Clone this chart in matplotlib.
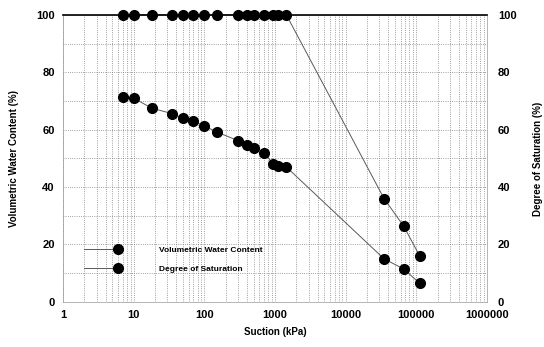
import matplotlib
matplotlib.use("Agg")
import matplotlib.pyplot as plt
from matplotlib.ticker import FixedLocator, FuncFormatter, MultipleLocator, LogLocator
from matplotlib.legend_handler import HandlerLine2DCompound

plt.rcParams['font.family'] = ['Liberation Sans', 'DejaVu Sans']

# suction (kPa)
suction = [7, 10, 18, 35, 50, 70, 100, 150, 300, 400, 500, 700, 950, 1100, 1450,
           35000, 66000, 112000]
# volumetric water content (%)
vwc = [71.5, 71, 67.5, 65.6, 64, 63, 61.3, 59.2, 56.2, 54.5, 53.5, 52, 48, 47.5, 47,
       15, 11.5, 6.5]
# degree of saturation (%)
sat = [100, 100, 100, 100, 100, 100, 100, 100, 100, 100, 100, 100, 100, 100, 100,
       36, 26.5, 16]

xticks = [1, 10, 100, 1000, 10000, 100000, 1000000]
yticks = [0, 20, 40, 60, 80, 100]


class RightMarker(HandlerLine2DCompound):
    # put the legend marker near the right end of the line
    def get_xdata(self, legend, xdescent, ydescent, width, height, fontsize):
        xdata, _ = super().get_xdata(legend, xdescent, ydescent, width, height, fontsize)
        return xdata, [-xdescent + 0.9 * width]


fig = plt.figure(figsize=(5.44, 3.47), dpi=100)
ax = fig.add_axes([0.116, 0.130, 0.779, 0.827])

l1, = ax.plot(suction, vwc, color='0.35', lw=0.7, marker='o', ms=7,
              mfc='black', mec='black', label='Volumetric Water Content', clip_on=False)
l2, = ax.plot(suction, sat, color='0.35', lw=0.7, marker='o', ms=7,
              mfc='black', mec='black', label='Degree of Saturation', clip_on=False)

ax.set_xscale('log')
ax.set_xlim(1, 1000000)
ax.set_ylim(0, 100)
ax.xaxis.set_major_locator(FixedLocator(xticks))
ax.xaxis.set_major_formatter(FuncFormatter(lambda v, p: '%d' % v))
ax.xaxis.set_minor_locator(LogLocator(base=10, subs=range(2, 10)))
ax.set_yticks(yticks)
ax.yaxis.set_minor_locator(MultipleLocator(10))

ax.grid(which='both', color='0.5', ls=':', lw=0.6)
ax.tick_params(which='both', length=0, labelsize=8)
for lbl in ax.get_xticklabels() + ax.get_yticklabels():
    lbl.set_fontweight('bold')
ax.tick_params(axis='x', pad=6)
ax.tick_params(axis='y', pad=6)

for side in ['left', 'right', 'bottom']:
    ax.spines[side].set_color('0.6')
    ax.spines[side].set_linewidth(0.5)
ax.spines['top'].set_color('black')
ax.spines['top'].set_linewidth(1.2)

ax.set_xlabel('Suction (kPa)', fontsize=7, fontweight='bold', labelpad=5)
ax.set_ylabel('Volumetric Water Content (%)', fontsize=7, fontweight='bold', labelpad=12)

ax2 = ax.twinx()
ax2.set_ylim(0, 100)
ax2.set_yticks(yticks)
ax2.tick_params(length=0, labelsize=8, pad=8)
for lbl in ax2.get_yticklabels():
    lbl.set_fontweight('bold')
for s in ax2.spines.values():
    s.set_visible(False)
ax2.set_ylabel('Degree of Saturation (%)', fontsize=7, fontweight='bold', labelpad=12)

leg = ax.legend(handles=[l1, l2], loc='upper left', bbox_to_anchor=(0.035, 0.215),
                frameon=False, prop={'size': 6, 'weight': 'bold'},
                handlelength=4.6, handletextpad=4.4, borderpad=0.2, labelspacing=1.3,
                handler_map={l1: RightMarker(), l2: RightMarker()})

fig.savefig('out.png', dpi=100)
